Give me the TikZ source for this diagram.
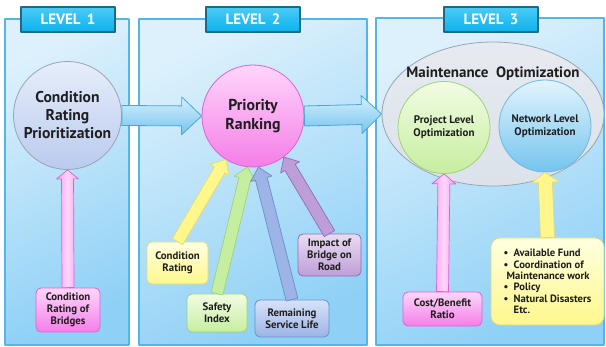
\documentclass[tikz,border=0pt]{standalone}
\usepackage{fontspec}
\setmainfont{PT Sans}
\usetikzlibrary{positioning,calc,shapes.geometric,shadows}

\definecolor{panelA}{HTML}{DDF1FC}
\definecolor{panelB}{HTML}{8ED0F6}
\definecolor{panelLine}{HTML}{52B6E6}
\definecolor{tabFill}{HTML}{0AB2EE}
\definecolor{tabTop}{HTML}{4CCBF6}
\definecolor{tabLine}{HTML}{1B6A88}
\definecolor{flowA}{HTML}{D6F0FC}
\definecolor{flowB}{HTML}{74C4EE}
\definecolor{flowLine}{HTML}{4AA6D6}
\definecolor{pinkA}{HTML}{FFD6FA}
\definecolor{pinkB}{HTML}{F47EE8}
\definecolor{pinkLine}{HTML}{DE62D2}
\definecolor{yelA}{HTML}{FFFFE0}
\definecolor{yelB}{HTML}{FFF78C}
\definecolor{yelLine}{HTML}{E2DA7A}
\definecolor{grnA}{HTML}{F2FCE4}
\definecolor{grnB}{HTML}{C6EEA0}
\definecolor{grnLine}{HTML}{9ED276}
\definecolor{bluA}{HTML}{D6E2F8}
\definecolor{bluB}{HTML}{9CB4E6}
\definecolor{bluLine}{HTML}{6C8ECE}
\definecolor{purA}{HTML}{EADCF2}
\definecolor{purB}{HTML}{BE9ED8}
\definecolor{purLine}{HTML}{8E6EB6}
\definecolor{ovalFill}{HTML}{DCE2EA}
\definecolor{ovalLine}{HTML}{9AA4B4}
\definecolor{ink}{HTML}{1E1E1E}

% block arrow: style, from, to, half shaft, half head, head length
\newcommand{\blockarrow}[6]{%
  \path (#2) coordinate (ba-s) (#3) coordinate (ba-t);
  \path ($(ba-t)!#6!(ba-s)$) coordinate (ba-h);
  \draw[#1] ($(ba-s)!#4!90:(ba-t)$) -- ($(ba-h)!#4!90:(ba-t)$)
    -- ($(ba-h)!#5!90:(ba-t)$) -- (ba-t) -- ($(ba-h)!#5!-90:(ba-t)$)
    -- ($(ba-h)!#4!-90:(ba-t)$) -- ($(ba-s)!#4!-90:(ba-t)$) -- cycle;
}
\newcommand{\bul}{\makebox[10pt][l]{\textbullet}}

\begin{document}
\begin{tikzpicture}[x=1pt,y=-1pt,line join=round,
  panel/.style={draw=panelLine,line width=1.3pt,top color=panelA,bottom color=panelB,shading angle=25},
  leveltab/.style={draw=tabLine,line width=1.4pt,top color=tabTop,bottom color=tabFill,text=white,
    font=\bfseries\fontsize{15}{16}\selectfont,minimum width=94pt,minimum height=25pt,inner sep=0pt,
    drop shadow={shadow xshift=1.2pt,shadow yshift=-1.2pt,fill=black!45}},
  bubble/.style={circle,line width=0.8pt,inner sep=0pt,align=center,text=ink},
  tag/.style={rounded corners=5pt,line width=0.8pt,align=center,inner sep=1pt,text=ink,
    font=\bfseries\fontsize{10.8}{12}\selectfont},
  flow/.style={draw=flowLine,line width=0.8pt,top color=flowA,bottom color=flowB},
  pinkarrow/.style={draw=pinkLine,line width=0.7pt,left color=pinkB!75,right color=pinkB!75,middle color=pinkA},
  yelarrow/.style={draw=yelLine,line width=0.7pt,fill=yelB},
  grnarrow/.style={draw=grnLine,line width=0.7pt,fill=grnB},
  bluarrow/.style={draw=bluLine,line width=0.7pt,fill=bluB},
  purarrow/.style={draw=purLine,line width=0.7pt,fill=purB}]
  \useasboundingbox (0,0) rectangle (606,347);

  % the three stages
  \path[panel] (5,19) rectangle (129,345);
  \path[panel] (139,19) rectangle (367,345);
  \path[panel] (376,18) rectangle (604,345);
  \node[leveltab] (lv1) at (68,19.5) {LEVEL\, 1};
  \node[leveltab] (lv2) at (253,19.5) {LEVEL\, 2};
  \node[leveltab] (lv3) at (491,19.5) {LEVEL\, 3};

  % level 1
  \node[bubble,draw=ovalLine,top color=white!40!bluA,bottom color=bluB!70,minimum size=108pt,
    font=\bfseries\fontsize{15.6}{18}\selectfont] (crp) at (67.5,115.5) {Condition\\Rating\\Prioritization};
  \node[tag,draw=pinkLine,top color=pinkA,bottom color=pinkB,minimum width=64pt,minimum height=44pt]
    (crb) at (68,310) {Condition\\Rating of\\Bridges};

  % level 2
  \node[bubble,draw=pinkLine,top color=pinkA,bottom color=pinkB,minimum size=102pt,
    font=\bfseries\fontsize{15.8}{18.5}\selectfont] (rank) at (253,116) {Priority\\Ranking};
  \node[tag,draw=yelLine,top color=yelA,bottom color=yelB,minimum width=61pt,minimum height=42pt]
    (cond) at (177.5,263) {Condition\\Rating};
  \node[tag,draw=grnLine,top color=grnA,bottom color=grnB,minimum width=60pt,minimum height=38pt]
    (safe) at (217,313) {Safety\\Index};
  \node[tag,draw=bluLine,top color=bluA,bottom color=bluB,minimum width=74pt,minimum height=37pt]
    (life) at (292,318.5) {Remaining\\Service Life};
  \node[tag,draw=purLine,top color=purA,bottom color=purB,minimum width=63pt,minimum height=42pt]
    (road) at (329.5,255) {Impact of\\Bridge on\\Road};

  % level 3
  \node[ellipse,draw=ovalLine,line width=0.8pt,top color=ovalFill!70!white,bottom color=ovalFill,
    minimum width=222pt,minimum height=144pt,inner sep=0pt] (opt) at (493,114) {};
  \node[text=ink,font=\bfseries\fontsize{15}{16}\selectfont] (optt) at (493,74)
    {Maintenance\ \ Optimization};
  \node[bubble,draw=grnLine,top color=grnA,bottom color=grnB,minimum size=92pt,
    font=\bfseries\fontsize{11}{13}\selectfont] (proj) at (444,127.5) {Project Level\\Optimization};
  \node[bubble,draw=flowLine!80,top color=flowA!70!white,bottom color=flowB,minimum size=92pt,
    font=\bfseries\fontsize{11}{13}\selectfont] (net) at (545,126) {Network Level\\Optimization};
  \node[tag,draw=pinkLine,top color=pinkA,bottom color=pinkB,minimum width=79pt,minimum height=34pt]
    (cost) at (442.5,309) {Cost/Benefit\\Ratio};
  \node[tag,draw=yelLine,top color=yelA,bottom color=yelB,minimum width=113pt,minimum height=87pt,
    rounded corners=9pt,align=left,font=\bfseries\fontsize{10.6}{11.3}\selectfont] (fund) at (547.5,281.5)
    {\bul Available Fund\\\bul Coordination of\\\hspace*{3pt}Maintenance work\\\bul Policy\\
     \bul Natural Disasters\\\hspace*{10pt}Etc.};

  % connectors
  \blockarrow{flow}{crp.east}{rank.west}{10pt}{19pt}{20pt}
  \blockarrow{flow}{rank.east}{opt.west}{10pt}{19pt}{20pt}
  \blockarrow{pinkarrow}{crb.north}{crp.south}{6pt}{11pt}{9pt}
  \blockarrow{yelarrow}{cond.north}{rank.238}{6pt}{11pt}{12pt}
  \blockarrow{grnarrow}{safe.north}{rank.264}{6pt}{11pt}{12pt}
  \blockarrow{bluarrow}{life.north}{rank.276}{6pt}{11pt}{12pt}
  \blockarrow{purarrow}{road.north}{rank.307}{6pt}{11pt}{12pt}
  \blockarrow{pinkarrow}{cost.north}{proj.south}{6pt}{12pt}{10pt}
  \blockarrow{yelarrow}{fund.north}{net.south}{7pt}{14pt}{10pt}
\end{tikzpicture}
\end{document}
